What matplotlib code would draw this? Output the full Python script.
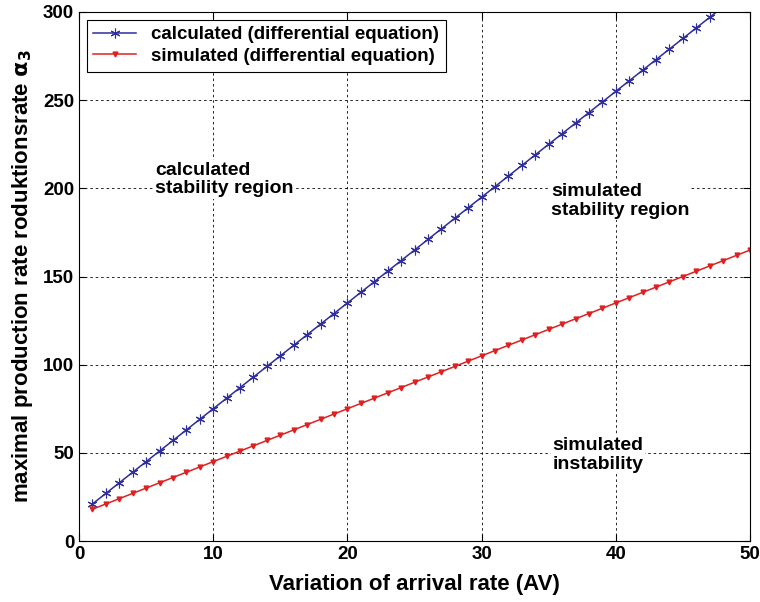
import matplotlib
matplotlib.use("Agg")
import matplotlib.pyplot as plt

# ── data ──────────────────────────────────────────────────────
av_calc = list(range(1, 49))
alpha_calc = [21, 27, 33, 39, 45, 51, 57, 63, 69, 75,
              81, 87, 93, 99, 105, 111, 117, 123, 129, 135,
              141, 147, 153, 159, 165, 171, 177, 183, 189, 195,
              201, 207, 213, 219, 225, 231, 237, 243, 249, 255,
              261, 267, 273, 279, 285, 291, 297, 303]

av_sim = list(range(1, 51))
alpha_sim = [18, 21, 24, 27, 30, 33, 36, 39, 42, 45,
             48, 51, 54, 57, 60, 63, 66, 69, 72, 75,
             78, 81, 84, 87, 90, 93, 96, 99, 102, 105,
             108, 111, 114, 117, 120, 123, 126, 129, 132, 135,
             138, 141, 144, 147, 150, 153, 156, 159, 162, 165]

x_ticks = [0, 10, 20, 30, 40, 50]
y_ticks = [0, 50, 100, 150, 200, 250, 300]

region_labels = [
    (5.7, 205, "calculated\nstability region"),
    (35.2, 193, "simulated\nstability region"),
    (35.3, 49, "simulated\ninstability"),
]

plt.rcParams["font.family"] = ["Liberation Sans", "DejaVu Sans"]
plt.rcParams["font.weight"] = "bold"
plt.rcParams["mathtext.default"] = "bf"

fig = plt.figure(figsize=(7.6, 6.02), dpi=100)
ax = fig.add_axes([79 / 760, 61 / 602, 671 / 760, 529 / 602])

ax.plot(av_calc, alpha_calc, color="#2e2e9c", lw=1.1, marker=(6, 2, 0),
        markersize=7, markeredgewidth=0.8, label="calculated (differential equation)")
ax.plot(av_sim, alpha_sim, color="#e02020", lw=1.1, marker="v",
        markersize=3.5, label="simulated (differential equation)")

ax.set_xlim(0, 50)
ax.set_ylim(0, 300)
ax.set_xticks(x_ticks)
ax.set_yticks(y_ticks)
ax.tick_params(direction="in", top=True, right=True, labelsize=13.5, length=5)
for lab in ax.get_xticklabels() + ax.get_yticklabels():
    lab.set_fontweight("bold")
ax.grid(True, color="black", linestyle=(0, (3, 3.5)), linewidth=0.6)

for x, y, txt in region_labels:
    ax.text(x, y, txt, fontsize=14, fontweight="bold", ha="left", va="center",
            linespacing=1.15,
            bbox=dict(facecolor="white", edgecolor="none", pad=1))

ax.set_xlabel("Variation of arrival rate (AV)", fontsize=16, fontweight="bold", labelpad=8)
ax.set_ylabel(r"maximal production rate roduktionsrate $\alpha_3$", fontsize=16,
              fontweight="bold", labelpad=6)

leg = ax.legend(loc="upper left", fontsize=13.5, fancybox=False, framealpha=1,
                edgecolor="black", borderaxespad=0.4, handlelength=2.3,
                labelspacing=0.25, borderpad=0.35)
leg.get_frame().set_linewidth(0.8)
for t in leg.get_texts():
    t.set_fontweight("bold")

fig.savefig("out.png", dpi=100)
